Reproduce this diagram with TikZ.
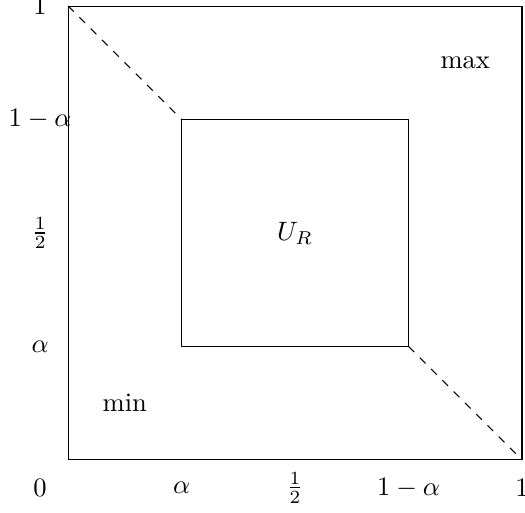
\documentclass[tikz,border=0pt]{standalone}
\begin{document}
\begin{tikzpicture}[lbl/.style={inner sep=0pt}]
\useasboundingbox (-0.9,-0.69) rectangle (6.04,6.08);
\coordinate (O) at (0,0);
\coordinate (A) at (6,6);
\coordinate (TL) at (0,6);
\coordinate (BR) at (6,0);
\coordinate (P) at (1.5,1.5);
\coordinate (Q) at (4.5,4.5);
\coordinate (PQ) at (1.5,4.5);
\coordinate (QP) at (4.5,1.5);
\draw (O) rectangle (A);
\draw (P) rectangle (Q);
\draw[dashed] (TL) -- (PQ);
\draw[dashed] (QP) -- (BR);
\node[lbl] (l1) at (-0.37,6) {$1$};
\node[lbl] (l1a) at (-0.37,4.5) {$1-\alpha$};
\node[lbl] (lh) at (-0.37,3) {$\frac{1}{2}$};
\node[lbl] (la) at (-0.37,1.5) {$\alpha$};
\node[lbl] (l0) at (-0.37,-0.37) {$0$};
\node[lbl] (ba) at (1.5,-0.37) {$\alpha$};
\node[lbl] (bh) at (3,-0.37) {$\frac{1}{2}$};
\node[lbl] (b1a) at (4.5,-0.37) {$1-\alpha$};
\node[lbl] (b1) at (6,-0.37) {$1$};
\node[lbl] (ur) at (3,3) {$U_R$};
\node[lbl] (mx) at (5.25,5.25) {max};
\node[lbl] (mn) at (0.75,0.75) {min};
\end{tikzpicture}
\end{document}
